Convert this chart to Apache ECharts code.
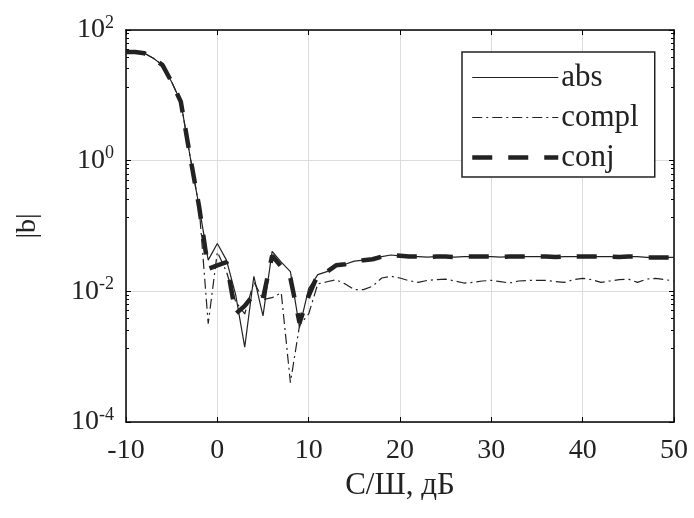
<!DOCTYPE html>
<html>
<head>
<meta charset="utf-8">
<title>|b| vs SNR</title>
<script src="https://cdn.jsdelivr.net/npm/echarts@6/dist/echarts.min.js"></script>
<style>
  html, body { margin: 0; padding: 0; background: #fff; }
  #chart { width: 694px; height: 518px; }
</style>
</head>
<body>
<div id="chart"></div>
<script>
// С/Ш, дБ
var snr = [-10, -9, -8, -7, -6, -5, -4, -3, -2, -1,
  0, 1, 2, 3, 4, 5, 6, 7, 8, 9,
  10, 11, 12, 13, 14, 15, 16, 17, 18, 19,
  20, 21, 22, 23, 24, 25, 26, 27, 28, 29,
  30, 31, 32, 33, 34, 35, 36, 37, 38, 39,
  40, 41, 42, 43, 44, 45, 46, 47, 48, 49, 50];

var absVals = [46, 46, 44, 37, 29, 16, 8, 1.2, 0.2, 0.03,
  0.054, 0.03, 0.009, 0.0014, 0.017, 0.0042, 0.041, 0.028, 0.02, 0.0028,
  0.011, 0.018, 0.02, 0.025, 0.026, 0.029, 0.03, 0.031, 0.034, 0.036,
  0.035, 0.034, 0.034, 0.0335, 0.034, 0.034, 0.0335, 0.034, 0.034, 0.034,
  0.034, 0.0335, 0.034, 0.034, 0.034, 0.034, 0.034, 0.0335, 0.034, 0.034,
  0.034, 0.034, 0.034, 0.034, 0.0335, 0.034, 0.034, 0.033, 0.033, 0.033, 0.033];

var complVals = [46, 46, 44, 37, 29, 16, 8, 1.2, 0.2, 0.0032,
  0.04, 0.02, 0.007, 0.0045, 0.014, 0.0075, 0.008, 0.0095, 0.0004, 0.003,
  0.0045, 0.013, 0.014, 0.015, 0.013, 0.0106, 0.0106, 0.012, 0.016, 0.017,
  0.016, 0.0145, 0.0137, 0.0147, 0.0151, 0.0154, 0.0144, 0.0134, 0.0137, 0.0144,
  0.0147, 0.0141, 0.0134, 0.0144, 0.0147, 0.0147, 0.0147, 0.0141, 0.0137, 0.0151,
  0.0158, 0.0151, 0.0137, 0.0144, 0.0151, 0.0154, 0.0137, 0.0154, 0.0158, 0.0151, 0.0144];

var conjVals = [46, 46, 44, 37, 29, 16, 8, 1.2, 0.2, 0.022,
  0.025, 0.028, 0.0045, 0.006, 0.009, 0.0078, 0.035, 0.024, 0.016, 0.0033,
  0.0085, 0.018, 0.02, 0.025, 0.026, 0.029, 0.03, 0.031, 0.034, 0.036,
  0.035, 0.034, 0.034, 0.0335, 0.034, 0.034, 0.0335, 0.034, 0.034, 0.034,
  0.034, 0.0335, 0.034, 0.034, 0.034, 0.034, 0.034, 0.0335, 0.034, 0.034,
  0.034, 0.034, 0.034, 0.034, 0.0335, 0.034, 0.034, 0.033, 0.033, 0.033, 0.033];

var xTicks = [-10, 0, 10, 20, 30, 40, 50];
var yExps = [-4, -2, 0, 2];

function pairs(ys) {
  return snr.map(function (x, i) { return [x, ys[i]]; });
}

var serif = 'Liberation Serif';
var chart = echarts.init(document.getElementById('chart'));

var xBase = {
  type: 'value', min: xTicks[0], max: xTicks[xTicks.length - 1], interval: 10,
  axisLine: { show: true, onZero: false, lineStyle: { color: '#000', width: 1.5 } },
  axisTick: { show: true, inside: true, length: 5, lineStyle: { color: '#000' } }
};
var yBase = {
  type: 'log', logBase: 10,
  min: Math.pow(10, yExps[0]), max: Math.pow(10, yExps[yExps.length - 1]), interval: 2,
  axisLine: { show: true, onZero: false, lineStyle: { color: '#000', width: 1.5 } },
  axisTick: { show: true, inside: true, length: 5, lineStyle: { color: '#000' } },
  minorTick: { show: true, splitNumber: 8, length: 3, lineStyle: { color: '#000' } }
};

var option = {
  animation: false,
  backgroundColor: '#fff',
  grid: { left: 126, right: 20, top: 30, bottom: 96, containLabel: false },
  xAxis: [
    Object.assign({}, xBase, {
      position: 'bottom',
      name: 'С/Ш, дБ', nameLocation: 'middle', nameGap: 48,
      nameTextStyle: { fontFamily: serif, fontSize: 31, color: '#222' },
      axisLabel: { margin: 15, fontFamily: serif, fontSize: 28, color: '#222' },
      splitLine: { show: true, lineStyle: { color: '#dcdcdc', width: 1 } }
    }),
    Object.assign({}, xBase, {
      position: 'top', axisLabel: { show: false }, splitLine: { show: false }
    })
  ],
  yAxis: [
    Object.assign({}, yBase, {
      position: 'left',
      name: '|b|', nameLocation: 'middle', nameGap: 84, nameRotate: 90,
      nameTextStyle: { fontFamily: serif, fontSize: 28, color: '#222' },
      axisLabel: {
        margin: 12, color: '#222',
        formatter: function (v) {
          var e = Math.round(Math.log10(v));
          return '{b|10}{s|' + e + '}';
        },
        rich: {
          b: { fontFamily: serif, fontSize: 28, color: '#222' },
          s: { fontFamily: serif, fontSize: 18, color: '#222', padding: [0, 0, 14, 0] }
        }
      },
      splitLine: { show: true, lineStyle: { color: '#dcdcdc', width: 1 } }
    }),
    Object.assign({}, yBase, {
      position: 'right', axisLabel: { show: false }, splitLine: { show: false }
    })
  ],
  legend: {
    left: 462, top: 52, orient: 'vertical',
    backgroundColor: '#fff', borderColor: '#222', borderWidth: 1.5, borderRadius: 0,
    padding: [10, 16, 4, 8], itemGap: 9, itemWidth: 86, itemHeight: 14,
    itemStyle: { color: 'rgba(0,0,0,0)', borderColor: 'rgba(0,0,0,0)', borderWidth: 0 },
    lineStyle: { width: 'inherit', type: 'inherit' },
    textStyle: { fontFamily: serif, fontSize: 31, color: '#222', padding: [0, 0, 0, -2] },
    data: ['abs', 'compl', 'conj']
  },
  series: [
    {
      name: 'abs', type: 'line', data: pairs(absVals), symbol: 'none',
      lineStyle: { color: '#222', width: 1.2, type: 'solid' }, itemStyle: { color: '#222' }
    },
    {
      name: 'compl', type: 'line', data: pairs(complVals), symbol: 'none',
      lineStyle: { color: '#222', width: 1.2, type: [10, 4, 2, 4] }, itemStyle: { color: '#222' }
    },
    {
      name: 'conj', type: 'line', data: pairs(conjVals), symbol: 'none',
      lineStyle: { color: '#222', width: 4.5, type: [20, 16] }, itemStyle: { color: '#222' }
    }
  ]
};

chart.setOption(option);
</script>
</body>
</html>
